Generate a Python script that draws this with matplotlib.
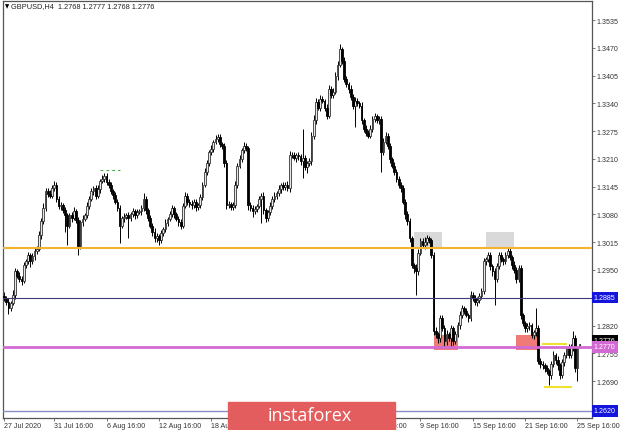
import matplotlib
matplotlib.use("Agg")
import matplotlib.pyplot as plt
import numpy as np
from matplotlib.patches import Rectangle

# GBPUSD H4 closes, in pips (price * 10000), 27 Jul 20:00 .. 25 Sep 20:00
closes = [
    12884, 12875, 12860, 12872, 12891, 12947, 12937, 12930, 12924, 12961,
    12970, 12984, 12970, 12982, 12994, 13000, 13031, 13064, 13094, 13134,
    13128, 13124, 13141, 13150, 13117, 13099, 13101, 13090, 13078, 13054,
    13078, 13071, 13087, 13066, 13005, 13062, 13070, 13078, 13099, 13117,
    13134, 13141, 13124, 13140, 13158, 13164, 13171, 13157, 13148, 13134,
    13125, 13110, 13094, 13054, 13071, 13075, 13078, 13071, 13080, 13087,
    13078, 13085, 13087, 13094, 13117, 13090, 13071, 13054, 13040, 13024,
    13030, 13020, 13036, 13045, 13060, 13070, 13082, 13094, 13080, 13070,
    13062, 13054, 13100, 13124, 13110, 13105, 13101, 13110, 13098, 13101,
    13120, 13150, 13180, 13200, 13225, 13234, 13250, 13257, 13262, 13245,
    13241, 13200, 13101, 13105, 13098, 13101, 13150, 13194, 13210, 13230,
    13241, 13235, 13101, 13095, 13087, 13092, 13100, 13115, 13124, 13090,
    13071, 13085, 13100, 13115, 13124, 13130, 13140, 13148, 13145, 13150,
    13141, 13218, 13220, 13212, 13218, 13216, 13205, 13211, 13190, 13200,
    13204, 13264, 13300, 13344, 13330, 13351, 13345, 13330, 13311, 13374,
    13360, 13367, 13404, 13430, 13467, 13440, 13397, 13385, 13374, 13355,
    13334, 13346, 13340, 13334, 13300, 13281, 13270, 13264, 13280, 13304,
    13310, 13300, 13304, 13227, 13250, 13264, 13240, 13210, 13194, 13180,
    13164, 13150, 13141, 13110, 13080, 13064, 13024, 12961, 12955, 12947,
    12990, 13017, 13008, 13015, 13024, 13020, 12984, 12807, 12800, 12790,
    12837, 12815, 12783, 12800, 12790, 12814, 12783, 12800, 12821, 12845,
    12860, 12853, 12845, 12837, 12891, 12885, 12875, 12879, 12890, 12900,
    12970, 12975, 12984, 12960, 12947, 12930, 12960, 12984, 12975, 12970,
    12985, 12994, 12980, 12961, 12950, 12930, 12954, 12844, 12825, 12814,
    12818, 12821, 12797, 12805, 12814, 12737, 12730, 12727, 12720, 12713,
    12704, 12730, 12751, 12740, 12727, 12704, 12735, 12751, 12767, 12751,
    12770, 12790, 12720, 12768, 12776,
]
first_open = 12890

# upper / lower shadow lengths in pips
wick_hi = [
    8, 6, 10, 5, 12, 8, 6, 9, 5, 7,
    6, 8, 5, 7, 9, 6, 10, 8, 12, 9,
    7, 10, 8, 9, 6, 5, 8, 6, 7, 5,
    6, 8, 10, 5, 7, 6, 8, 5, 9, 6,
    8, 6, 7, 9, 5, 8, 6, 7, 5, 8,
    6, 7, 5, 8, 6, 9, 5, 7, 6, 8,
    5, 7, 6, 8, 12, 6, 5, 7, 6, 8,
    7, 5, 8, 6, 9, 5, 7, 8, 6, 5,
    6, 8, 7, 9, 5, 6, 8, 7, 5, 6,
    8, 6, 9, 7, 6, 8, 5, 9, 7, 6,
    5, 7, 8, 6, 5, 7, 9, 6, 8, 5,
    9, 6, 5, 7, 6, 8, 5, 7, 6, 8,
    6, 5, 8, 7, 9, 6, 8, 5, 7, 6,
    8, 10, 6, 7, 5, 8, 6, 70, 7, 5,
    8, 10, 12, 9, 6, 8, 7, 5, 9, 8,
    7, 9, 10, 8, 12, 6, 8, 7, 5, 9,
    6, 8, 7, 5, 9, 6, 8, 7, 10, 6,
    8, 5, 7, 6, 9, 8, 6, 7, 5, 8,
    6, 7, 5, 8, 6, 9, 7, 5, 6, 8,
    10, 9, 7, 12, 8, 6, 5, 7, 9, 6,
    8, 7, 6, 9, 5, 8, 6, 7, 8, 10,
    7, 6, 8, 5, 9, 7, 6, 8, 5, 7,
    8, 6, 9, 7, 5, 8, 6, 7, 9, 5,
    6, 8, 7, 5, 9, 6, 8, 7, 6, 5,
    8, 7, 6, 5, 46, 8, 6, 7, 5, 8,
    6, 7, 9, 5, 8, 6, 7, 8, 5, 9,
    6, 17, 7, 5, 1,
]
wick_lo = [
    6, 8, 12, 7, 5, 9, 6, 8, 10, 5,
    7, 5, 12, 6, 8, 7, 5, 9, 6, 7,
    8, 6, 5, 7, 9, 6, 8, 7, 40, 45,
    6, 8, 5, 7, 21, 6, 8, 5, 7, 6,
    5, 8, 7, 6, 9, 5, 7, 8, 6, 7,
    8, 6, 7, 40, 6, 8, 5, 45, 7, 6,
    8, 7, 5, 9, 6, 8, 7, 5, 10, 8,
    9, 12, 6, 7, 5, 8, 6, 7, 9, 6,
    8, 7, 6, 5, 9, 7, 8, 6, 10, 7,
    5, 7, 6, 8, 7, 5, 9, 6, 8, 7,
    8, 10, 9, 6, 7, 8, 5, 7, 6, 8,
    6, 7, 10, 8, 12, 6, 7, 5, 55, 8,
    9, 7, 6, 8, 5, 7, 6, 9, 8, 7,
    6, 8, 7, 5, 9, 8, 10, 40, 7, 12,
    6, 8, 7, 9, 6, 8, 5, 7, 8, 6,
    7, 8, 6, 9, 5, 7, 8, 6, 9, 7,
    8, 49, 7, 6, 9, 8, 7, 6, 5, 8,
    7, 6, 9, 47, 8, 6, 7, 9, 6, 8,
    7, 8, 9, 6, 10, 8, 9, 7, 12, 56,
    8, 6, 7, 9, 6, 8, 7, 10, 9, 12,
    8, 7, 16, 9, 7, 20, 8, 6, 7, 9,
    8, 7, 6, 9, 7, 8, 6, 9, 7, 8,
    6, 8, 7, 9, 12, 63, 7, 8, 6, 9,
    7, 8, 6, 9, 7, 10, 8, 9, 7, 10,
    8, 9, 7, 8, 9, 7, 10, 8, 9, 7,
    23, 8, 7, 9, 10, 8, 7, 9, 6, 8,
    7, 9, 8, 30, 0,
]

tick_bars = [0, 23, 47, 71, 95, 119, 143, 167, 191, 215, 239, 263]
tick_labels = ["27 Jul 2020", "31 Jul 16:00", "6 Aug 16:00", "12 Aug 16:00",
               "18 Aug 16:00", "24 Aug 16:00", "28 Aug 16:00", "3 Sep 16:00",
               "9 Sep 16:00", "15 Sep 16:00", "21 Sep 16:00", "25 Sep 16:00"]
price_ticks = [1.3535, 1.3470, 1.3405, 1.3340, 1.3275, 1.3210, 1.3145,
               1.3080, 1.3015, 1.2950, 1.2820, 1.2755, 1.2690]

level_orange = 1.3001
level_navy = 1.2885
level_magenta = 1.2770
level_bottom = 1.2620
last_price = 1.2776
header = "GBPUSD,H4  1.2768 1.2777 1.2768 1.2776"

# zones: (first bar, last bar, low, high)
grey_zones = [(188, 201, 1.3000, 1.3038), (221, 234, 1.3000, 1.3038)]
red_zones = [(197, 208, 1.2762, 1.2797), (235, 245, 1.2762, 1.2797)]

FONT = "Liberation Sans"

c = np.array(closes) / 10000
o = np.concatenate([[first_open], closes[:-1]]) / 10000
hi = np.maximum(o, c) + np.array(wick_hi) / 10000
lo = np.minimum(o, c) - np.array(wick_lo) / 10000
x = np.arange(len(c))

fig = plt.figure(figsize=(6.2, 4.31), dpi=100)
ax = fig.add_axes([3 / 620, 12 / 431, 589 / 620, 417 / 431])

ax.set_xlim(-0.5, 269.7)
ax.set_ylim(1.26036, 1.35795)

for z in grey_zones:
    ax.add_patch(Rectangle((z[0], z[2]), z[1] - z[0], z[3] - z[2],
                           color="#d9d9d9", zorder=1, lw=0))
for z in red_zones:
    ax.add_patch(Rectangle((z[0], z[2]), z[1] - z[0], z[3] - z[2],
                           color="#ee7b78", zorder=1, lw=0))

# candles
ax.vlines(x, lo, hi, color="black", lw=0.7, zorder=3)
up = c >= o
ax.bar(x[up], (c - o)[up], bottom=o[up], width=0.8, color="#e8e8e8",
       edgecolor="#333333", linewidth=0.6, zorder=3)
ax.bar(x[~up], (o - c)[~up], bottom=c[~up], width=0.8, color="black",
       edgecolor="black", linewidth=0.6, zorder=3)

# horizontal levels
ax.axhline(level_orange, color="#f2b42c", lw=1.5, zorder=4)
ax.axhline(level_navy, color="#3c3c78", lw=0.8, zorder=4)
ax.axhline(level_magenta, color="#d36ad3", lw=2.0, zorder=4)
ax.axhline(level_bottom, color="#8c8cc8", lw=1.0, zorder=4)

ax.plot([247, 258], [1.2777, 1.2777], color="#f0e030", lw=1.5, zorder=4)
ax.plot([248, 260], [1.2677, 1.2677], color="#f0e030", lw=1.5, zorder=4)
ax.plot([44, 53], [1.3185, 1.3185], color="#44aa44", lw=0.7,
        ls=(0, (3, 3)), zorder=4)

# axes styling
for s in ax.spines.values():
    s.set_color("#555555")
    s.set_linewidth(0.9)
ax.yaxis.tick_right()
ax.set_yticks(price_ticks)
ax.set_yticklabels([f"{p:.4f}" for p in price_ticks], fontsize=5.1,
                   color="#333333", family=FONT)
ax.set_xticks(tick_bars)
ax.set_xticklabels(tick_labels, fontsize=5.1, color="#333333", ha="left",
                   family=FONT)
ax.tick_params(axis="both", length=2, width=0.6, color="#606060", pad=1.2)

# price labels on the right
def price_label(val, fc, va="center"):
    ax.annotate(f"{val:.4f}", xy=(1.0, val), xycoords=("axes fraction", "data"),
                xytext=(1.2, 0), textcoords="offset points", fontsize=5.1,
                family=FONT, color="white", va=va, ha="left",
                annotation_clip=False,
                bbox=dict(boxstyle="square,pad=0.3", fc=fc, ec="none"))

price_label(level_navy, "#1414dc")
price_label(level_bottom, "#1414dc")
price_label(last_price, "black", va="bottom")
price_label(level_magenta, "#d36ad3")

ax.text(0.003, 0.988, "\u25bc", transform=ax.transAxes, fontsize=4,
        va="center", ha="left", color="black")
ax.text(0.014, 0.988, header, transform=ax.transAxes, fontsize=5.3,
        va="center", ha="left", color="#222222", family=FONT)

# instaforex banner
fig.patches.append(Rectangle((228 / 620, 0), 167 / 620, 28 / 431,
                             transform=fig.transFigure, color="#e35d5f",
                             zorder=10))
fig.text(0.5, 0.034, "instaforex", fontsize=13, color="white",
         family="Open Sans", ha="center", va="center", zorder=11)

fig.savefig("out.png", dpi=100)
